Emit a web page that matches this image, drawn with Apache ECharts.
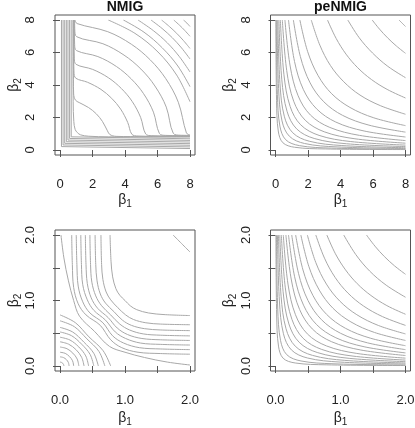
<!DOCTYPE html>
<html><head><meta charset="utf-8">
<script src="https://cdn.jsdelivr.net/npm/echarts@6/dist/echarts.min.js"></script>
<style>html,body{margin:0;padding:0;background:#fff}#c{width:415px;height:428px}</style>
</head><body><div id="c"></div>
<script>
// ---------- tick values ----------
const ticksWide = [0, 2, 4, 6, 8];
const ticksZoom = [0, 0.5, 1, 1.5, 2];
const titles = ['NMIG', 'peNMIG'];

// ---------- panel 1: NMIG on [0,8]^2 (contour lines) ----------
const nmigWideSpike = [
  [[0.09,8],[0.09,0.21],[0.12,0.12],[0.21,0.09],[8,0.09]],
  [[0.19,8],[0.19,0.31],[0.22,0.22],[0.31,0.19],[8,0.19]],
  [[0.29,8],[0.29,0.41],[0.32,0.32],[0.41,0.29],[8,0.29]],
  [[0.39,8],[0.39,0.51],[0.42,0.42],[0.51,0.39],[8,0.39]],
  [[0.49,8],[0.49,0.61],[0.52,0.52],[0.61,0.49],[8,0.49]],
  [[0.59,8],[0.59,0.71],[0.62,0.62],[0.71,0.59],[8,0.59]],
  [[0.69,8],[0.69,0.81],[0.72,0.72],[0.81,0.69],[8,0.69]]
];
const nmigWideInner = [
  [[0.8,8],[0.81,3],[0.85,1.75],[0.93,1.27],[1.07,1.07],[1.27,0.93],[1.75,0.85],[3,0.81],[8,0.8]]
];
const nmigWideArcs = [
  [[0.82,8],[0.825,4.35],[0.84,3.45],[0.95,3.07],[1.18,2.92],[1.76,2.61],[2.23,2.23],[2.61,1.76],[2.92,1.18],[3.07,0.95],[3.45,0.84],[4.35,0.825],[8,0.82]],
  [[0.84,8],[0.845,5.7],[0.86,4.8],[0.97,4.42],[1.69,4.17],[2.52,3.73],[3.18,3.18],[3.73,2.52],[4.17,1.69],[4.42,0.97],[4.8,0.86],[5.7,0.845],[8,0.84]],
  [[0.86,8],[0.865,6.55],[0.88,5.65],[0.99,5.27],[2.01,4.96],[2.99,4.44],[3.78,3.78],[4.44,2.99],[4.96,2.01],[5.27,0.99],[5.65,0.88],[6.55,0.865],[8,0.86]],
  [[0.88,8],[0.885,7.4],[0.9,6.5],[1.01,6.12],[2.33,5.75],[3.47,5.14],[4.38,4.38],[5.14,3.47],[5.75,2.33],[6.12,1.01],[6.5,0.9],[7.4,0.885],[8,0.88]],
  [[0.9,8],[0.91,7.4],[1.03,6.97],[2.64,6.54],[3.94,5.84],[4.98,4.98],[5.84,3.94],[6.54,2.64],[6.97,1.03],[7.4,0.91],[8,0.9]],
  [[0.92,8],[1.05,7.78],[2.94,7.28],[4.39,6.51],[5.55,5.55],[6.51,4.39],[7.28,2.94],[7.78,1.05],[8,0.92]]
];
const nmigWideOuter = [
  [[2.97,8],[4.61,7.18],[6.03,6.03],[7.18,4.61],[8,2.97]],
  [[3.9,8],[5.17,7.25],[6.29,6.29],[7.25,5.17],[8,3.9]],
  [[4.8,8],[5.74,7.35],[6.6,6.6],[7.35,5.74],[8,4.8]],
  [[5.6,8],[6.28,7.48],[6.91,6.91],[7.48,6.28],[8,5.6]],
  [[6.25,8],[6.73,7.6],[7.18,7.18],[7.6,6.73],[8,6.25]],
  [[7,8],[7.52,7.52],[8,7]],
  [[7.6,8],[7.81,7.81],[8,7.6]]
];

// ---------- panel 2: peNMIG on [0,8]^2 ----------
const penmigWide = [
  [[7.6,8],[7.8,7.8],[8,7.6]],
  [[5.95,8],[6.4,7.44],[6.9,6.9],[7.44,6.4],[8,5.95]],
  [[4.45,8],[5.15,6.91],[5.97,5.97],[6.91,5.15],[8,4.45]],
  [[3.2,8],[3.73,6.87],[4.34,5.9],[5.06,5.06],[5.9,4.34],[6.87,3.73],[8,3.2]],
  [[2.2,8],[2.73,6.45],[3.38,5.2],[4.2,4.2],[5.2,3.38],[6.45,2.73],[8,2.2]],
  [[1.5,8],[1.98,6.05],[2.62,4.58],[3.46,3.46],[4.58,2.62],[6.05,1.98],[8,1.5]],
  [[1.1,8],[1.53,5.75],[2.13,4.13],[2.97,2.97],[4.13,2.13],[5.75,1.53],[8,1.1]],
  [[0.8,8],[1.17,5.45],[1.72,3.71],[2.53,2.53],[3.71,1.72],[5.45,1.17],[8,0.8]],
  [[0.58,8],[0.9,5.17],[1.39,3.34],[2.15,2.15],[3.34,1.39],[5.17,0.9],[8,0.58]],
  [[0.42,8],[0.69,4.89],[1.12,3.0],[1.83,1.83],[3.0,1.12],[4.89,0.69],[8,0.42]],
  [[0.3,8],[0.52,4.63],[0.9,2.68],[1.55,1.55],[2.68,0.9],[4.63,0.52],[8,0.3]],
  [[0.21,8],[0.385,4.36],[0.71,2.38],[1.3,1.3],[2.38,0.71],[4.36,0.385],[8,0.21]],
  [[0.14,8],[0.275,4.08],[0.54,2.08],[1.06,1.06],[2.08,0.54],[4.08,0.275],[8,0.14]],
  [[0.09,8],[0.19,3.79],[0.4,1.79],[0.85,0.85],[1.79,0.4],[3.79,0.19],[8,0.09]],
  [[0.05,8],[0.117,3.43],[0.27,1.47],[0.63,0.63],[1.47,0.27],[3.43,0.117],[8,0.05]],
  [[0.025,8],[0.065,3.06],[0.17,1.17],[0.45,0.45],[1.17,0.17],[3.06,0.065],[8,0.025]]
];

// ---------- panel 3: NMIG on [0,2]^2 ----------
const nmigZoomFan = [
  [[0,0.06],[0.023,0.055],[0.042,0.042],[0.055,0.023],[0.06,0]],
  [[0,0.14],[0.053,0.129],[0.098,0.098],[0.129,0.053],[0.14,0]],
  [[0,0.21],[0.08,0.193],[0.145,0.145],[0.193,0.08],[0.21,0]],
  [[0,0.29],[0.107,0.264],[0.197,0.197],[0.264,0.107],[0.29,0]],
  [[0,0.37],[0.133,0.333],[0.248,0.248],[0.333,0.133],[0.37,0]],
  [[0,0.44],[0.154,0.396],[0.29,0.29],[0.396,0.154],[0.44,0]],
  [[0,0.52],[0.177,0.463],[0.333,0.333],[0.463,0.177],[0.52,0]],
  [[0,0.59],[0.195,0.519],[0.366,0.366],[0.519,0.195],[0.59,0]],
  [[0,0.69],[0.221,0.6],[0.414,0.414],[0.6,0.221],[0.69,0]],
  [[0,0.78],[0.234,0.663],[0.445,0.445],[0.663,0.234],[0.78,0]]
];
const nmigZoomL = [
  [[0.015,2],[0.06,1.65],[0.13,1.3],[0.21,1.0],[0.3,0.76],[0.53,0.53],[0.76,0.3],[1.0,0.21],[1.3,0.13],[1.65,0.06],[2,0.015]],
  [[0.18,2],[0.19,1.55],[0.21,1.2],[0.28,0.95],[0.4,0.78],[0.62,0.62],[0.78,0.4],[0.95,0.28],[1.2,0.21],[1.55,0.19],[2,0.18]],
  [[0.25,2],[0.26,1.55],[0.28,1.22],[0.35,0.98],[0.46,0.81],[0.66,0.66],[0.81,0.46],[0.98,0.35],[1.22,0.28],[1.55,0.26],[2,0.25]],
  [[0.32,2],[0.33,1.55],[0.35,1.24],[0.42,1.01],[0.52,0.85],[0.7,0.7],[0.85,0.52],[1.01,0.42],[1.24,0.35],[1.55,0.33],[2,0.32]],
  [[0.39,2],[0.4,1.55],[0.42,1.26],[0.48,1.04],[0.58,0.88],[0.74,0.74],[0.88,0.58],[1.04,0.48],[1.26,0.42],[1.55,0.4],[2,0.39]],
  [[0.46,2],[0.47,1.55],[0.49,1.28],[0.55,1.07],[0.64,0.92],[0.78,0.78],[0.92,0.64],[1.07,0.55],[1.28,0.49],[1.55,0.47],[2,0.46]],
  [[0.54,2],[0.55,1.55],[0.57,1.3],[0.62,1.1],[0.7,0.96],[0.83,0.83],[0.96,0.7],[1.1,0.62],[1.3,0.57],[1.55,0.55],[2,0.54]],
  [[0.63,2],[0.64,1.55],[0.66,1.32],[0.71,1.13],[0.78,1.01],[0.89,0.89],[1.01,0.78],[1.13,0.71],[1.32,0.66],[1.55,0.64],[2,0.63]],
  [[0.77,2],[0.785,1.6],[0.81,1.36],[0.86,1.18],[0.92,1.08],[1.0,1.0],[1.08,0.92],[1.18,0.86],[1.36,0.81],[1.6,0.785],[2,0.77]]
];
const nmigZoomCorner = [
  [[1.74,2],[1.87,1.87],[2,1.74]]
];

// ---------- panel 4: peNMIG on [0,2]^2 ----------
const penmigZoom = [
  [[1.4,2],[1.53,1.83],[1.673,1.673],[1.83,1.53],[2,1.4]],
  [[1.05,2],[1.234,1.703],[1.449,1.449],[1.703,1.234],[2,1.05]],
  [[0.79,2],[0.922,1.713],[1.077,1.468],[1.257,1.257],[1.468,1.077],[1.713,0.922],[2,0.79]],
  [[0.62,2],[0.754,1.646],[0.916,1.354],[1.114,1.114],[1.354,0.916],[1.646,0.754],[2,0.62]],
  [[0.49,2],[0.619,1.582],[0.783,1.251],[0.99,0.99],[1.251,0.783],[1.582,0.619],[2,0.49]],
  [[0.39,2],[0.512,1.523],[0.673,1.16],[0.883,0.883],[1.16,0.673],[1.523,0.512],[2,0.39]],
  [[0.31,2],[0.423,1.466],[0.577,1.074],[0.787,0.787],[1.074,0.577],[1.466,0.423],[2,0.31]],
  [[0.25,2],[0.354,1.414],[0.5,1],[0.707,0.707],[1,0.5],[1.414,0.354],[2,0.25]],
  [[0.2,2],[0.294,1.363],[0.431,0.929],[0.632,0.632],[0.929,0.431],[1.363,0.294],[2,0.2]],
  [[0.16,2],[0.244,1.313],[0.371,0.862],[0.566,0.566],[0.862,0.371],[1.313,0.244],[2,0.16]],
  [[0.12,2],[0.192,1.251],[0.307,0.783],[0.49,0.49],[0.783,0.307],[1.251,0.192],[2,0.12]],
  [[0.09,2],[0.151,1.193],[0.253,0.711],[0.424,0.424],[0.711,0.253],[1.193,0.151],[2,0.09]],
  [[0.066,2],[0.117,1.133],[0.206,0.642],[0.363,0.363],[0.642,0.206],[1.133,0.117],[2,0.066]],
  [[0.046,2],[0.086,1.066],[0.162,0.569],[0.303,0.303],[0.569,0.162],[1.066,0.086],[2,0.046]],
  [[0.03,2],[0.06,0.993],[0.122,0.493],[0.245,0.245],[0.493,0.122],[0.993,0.06],[2,0.03]],
  [[0.015,2],[0.034,0.885],[0.077,0.392],[0.173,0.173],[0.392,0.077],[0.885,0.034],[2,0.015]],
  [[0.007,2],[0.018,0.779],[0.046,0.304],[0.118,0.118],[0.304,0.046],[0.779,0.018],[2,0.007]]
];

// ---------- layout / styling ----------
const FONT = '"Liberation Sans", Arial, Helvetica, sans-serif';
const LINE = '#a8a8a8';
const INK = '#222';
const FRAME = '#555';

const panels = [
  { sets: [[nmigWideSpike, false], [nmigWideInner, 0.35], [nmigWideArcs, 0.35], [nmigWideOuter, 0.35]],
    ticks: ticksWide, x: 60, y: 20, w: 130, h: 130, bx: 55, by: 15, bw: 140, bh: 140, nameGapX: 38,
    fmt: v => String(v) },
  { sets: [[penmigWide, 0.35]],
    ticks: ticksWide, x: 275.5, y: 20, w: 130, h: 130, bx: 270.5, by: 15, bw: 140, bh: 140, nameGapX: 38,
    fmt: v => String(v) },
  { sets: [[nmigZoomFan, 0.35], [nmigZoomL, 0.35], [nmigZoomCorner, 0.35]],
    ticks: ticksZoom, x: 60, y: 235, w: 130, h: 131, bx: 55, by: 230, bw: 140, bh: 141, nameGapX: 40,
    fmt: v => (v % 1 === 0 ? v.toFixed(1) : '') },
  { sets: [[penmigZoom, 0.35]],
    ticks: ticksZoom, x: 275.5, y: 235, w: 130, h: 131, bx: 270.5, by: 230, bw: 140, bh: 141, nameGapX: 40,
    fmt: v => (v % 1 === 0 ? v.toFixed(1) : '') }
];

const richName = {
  a: { fontSize: 14, lineHeight: 16, verticalAlign: 'top', fontFamily: FONT, color: INK },
  b: { fontSize: 10, lineHeight: 16, verticalAlign: 'bottom', fontFamily: FONT, color: INK }
};

const grid = [], xAxis = [], yAxis = [], series = [];
panels.forEach((p, i) => {
  const tmin = p.ticks[0], tmax = p.ticks[p.ticks.length - 1], step = p.ticks[1] - p.ticks[0];
  grid.push({ left: p.bx, top: p.by, width: p.bw, height: p.bh, show: true,
    borderColor: FRAME, borderWidth: 1, backgroundColor: 'transparent', containLabel: false, outerBoundsMode: 'none' });
  xAxis.push({ gridIndex: 2 * i, type: 'value', show: false, min: 0, max: 1 });
  yAxis.push({ gridIndex: 2 * i, type: 'value', show: false, min: 0, max: 1 });
  grid.push({ left: p.x, top: p.y, width: p.w, height: p.h, show: false, containLabel: false, outerBoundsMode: 'none' });
  const offX = (p.by + p.bh) - (p.y + p.h);
  const offY = p.x - p.bx;
  xAxis.push({
    gridIndex: 2 * i + 1, type: 'value', min: tmin, max: tmax, interval: step, offset: offX,
    axisLine: { show: false }, splitLine: { show: false },
    axisTick: { show: true, length: 7, lineStyle: { color: FRAME, width: 1 } },
    axisLabel: { fontSize: 13, margin: 23, color: INK, fontFamily: FONT, formatter: p.fmt },
    name: '{a|β}{b|1}', nameLocation: 'middle', nameGap: p.nameGapX,
    nameTextStyle: { rich: richName }
  });
  yAxis.push({
    gridIndex: 2 * i + 1, type: 'value', min: tmin, max: tmax, interval: step, offset: offY,
    axisLine: { show: false }, splitLine: { show: false },
    axisTick: { show: true, length: 7, lineStyle: { color: FRAME, width: 1 } },
    axisLabel: { fontSize: 13, margin: 18, rotate: 90, color: INK, fontFamily: FONT, formatter: p.fmt },
    name: '{a|β}{b|2}', nameLocation: 'middle', nameGap: 28,
    nameTextStyle: { rich: richName }
  });
  p.sets.forEach(([curves, sm]) => {
    curves.forEach(c => series.push({
      type: 'line', xAxisIndex: 2 * i + 1, yAxisIndex: 2 * i + 1, data: c,
      showSymbol: false, symbol: 'none', smooth: sm, silent: true,
      lineStyle: { color: LINE, width: 1 }
    }));
  });
});

const chart = echarts.init(document.getElementById('c'), null, { renderer: 'canvas' });
chart.setOption({
  animation: false,
  backgroundColor: '#fff',
  grid, xAxis, yAxis, series,
  graphic: [
    { type: 'text', x: (panels[0].bx + panels[0].bw / 2), y: 7,
      style: { text: titles[0], fontSize: 14, fontWeight: 'bold', fontFamily: FONT, fill: '#111', align: 'center', verticalAlign: 'middle' } },
    { type: 'text', x: (panels[1].bx + panels[1].bw / 2), y: 7,
      style: { text: titles[1], fontSize: 14, fontWeight: 'bold', fontFamily: FONT, fill: '#111', align: 'center', verticalAlign: 'middle' } }
  ]
});
</script>
</body></html>
